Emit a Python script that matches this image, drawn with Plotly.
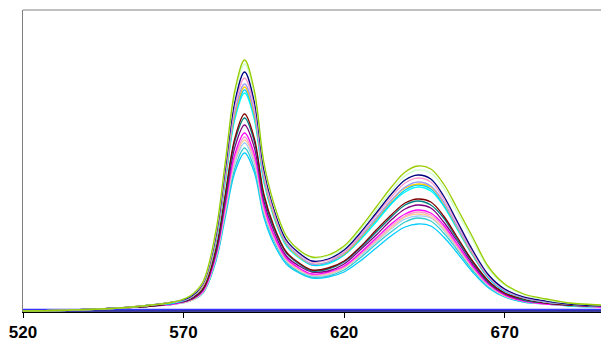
import plotly.graph_objects as go

# Wavelength (nm)
wavelength = [520, 535, 550, 560, 567, 572, 576, 580, 583, 586, 589, 592, 595, 598, 602, 606, 610,
              615, 620, 625, 630, 635, 639, 643, 647, 651, 655, 660, 665, 670, 676, 683, 690, 700]

s01 = [1, 2, 4, 7, 10, 16, 30, 80, 150, 222, 252, 222, 150, 110, 76, 62, 55, 57, 66, 84, 105, 126, 140, 146, 143, 128, 105, 75, 45, 28, 18, 13, 9, 7]
s02 = [1, 2, 4, 7, 10, 16, 29, 78, 148, 218, 248, 218, 148, 108, 75, 61, 54, 56, 64, 82, 102, 122, 136, 142, 139, 124, 101, 72, 43, 27, 17, 12, 9, 7]
s03 = [1, 2, 4, 7, 10, 15, 28, 75, 143, 211, 240, 211, 143, 105, 72, 59, 51, 53, 62, 79, 99, 119, 132, 137, 133, 116, 92, 62, 37, 23, 15, 11, 8, 6]
s04 = [1, 2, 4, 7, 10, 15, 27, 73, 139, 206, 234, 206, 139, 102, 71, 58, 50, 52, 60, 77, 97, 116, 129, 134, 130, 113, 90, 60, 36, 22, 15, 11, 8, 6]
s05 = [1, 2, 4, 7, 10, 14, 27, 71, 136, 201, 228, 201, 136, 100, 69, 56, 48, 50, 59, 75, 94, 113, 125, 130, 126, 110, 87, 59, 35, 22, 14, 10, 8, 6]
s06 = [1, 2, 4, 7, 10, 14, 26, 70, 134, 198, 225, 198, 134, 98, 68, 55, 48, 50, 58, 74, 93, 112, 124, 128, 125, 109, 86, 58, 35, 22, 14, 10, 8, 6]
s07 = [1, 2, 4, 7, 9, 14, 26, 69, 132, 196, 222, 196, 132, 97, 67, 55, 47, 49, 57, 73, 92, 110, 122, 127, 123, 107, 85, 57, 34, 21, 14, 10, 8, 6]
s08 = [1, 2, 4, 7, 9, 14, 26, 68, 130, 193, 219, 193, 130, 96, 66, 54, 47, 48, 57, 72, 90, 109, 120, 125, 121, 106, 84, 57, 34, 21, 14, 10, 8, 6]
s09 = [1, 2, 4, 6, 9, 13, 23, 62, 118, 174, 198, 174, 118, 87, 60, 49, 42, 44, 51, 65, 82, 98, 109, 113, 110, 96, 76, 51, 31, 19, 13, 9, 7, 6]
s10 = [1, 2, 4, 6, 9, 13, 23, 61, 115, 171, 194, 171, 115, 85, 59, 48, 41, 43, 50, 64, 80, 96, 107, 111, 107, 94, 74, 50, 30, 19, 12, 9, 7, 6]
s11 = [1, 2, 4, 6, 9, 12, 22, 58, 111, 165, 187, 165, 111, 82, 56, 46, 40, 41, 48, 62, 77, 93, 103, 107, 104, 90, 72, 48, 29, 18, 12, 9, 7, 6]
s12 = [1, 2, 4, 6, 8, 12, 21, 56, 107, 158, 179, 158, 107, 78, 54, 44, 38, 40, 46, 59, 74, 89, 98, 102, 99, 87, 69, 46, 28, 17, 11, 8, 7, 5]
s13 = [1, 2, 4, 6, 8, 12, 20, 55, 104, 154, 175, 154, 104, 76, 53, 43, 37, 39, 45, 58, 72, 87, 96, 100, 97, 85, 67, 45, 27, 17, 11, 8, 7, 5]
s14 = [1, 2, 4, 6, 8, 11, 20, 54, 102, 152, 172, 152, 102, 75, 52, 42, 37, 38, 44, 57, 71, 85, 95, 98, 95, 83, 66, 44, 27, 16, 11, 8, 7, 5]
s15 = [1, 2, 4, 6, 8, 11, 20, 53, 101, 149, 169, 149, 101, 74, 51, 42, 36, 37, 44, 56, 70, 84, 93, 96, 94, 82, 65, 44, 26, 16, 11, 8, 7, 5]
s16 = [1, 2, 4, 6, 8, 11, 19, 51, 98, 144, 164, 144, 98, 72, 50, 40, 35, 36, 42, 54, 68, 81, 90, 94, 91, 79, 63, 42, 25, 16, 10, 8, 6, 5]
s17 = [1, 2, 4, 6, 8, 11, 19, 50, 95, 140, 159, 140, 95, 69, 48, 39, 34, 35, 40, 51, 64, 77, 85, 88, 86, 75, 60, 40, 24, 15, 10, 8, 6, 5]

# Flat baseline (blank) series
flat_x = [520, 700]
b01 = [2.5, 2.5]
b02 = [1.0, 1.0]

tick_vals = [520, 570, 620, 670]
tick_text = ["520", "570", "620", "670"]

series = [s17, s16, s15, s14, s13, s12, s11, s10, s09, s08, s07, s06, s05, s04, s03, s02, s01]
colors = ["#00CCFF", "#33CCCC", "#99CCFF", "#FFCC99", "#FF99CC", "#FF00FF", "#800080", "#008080",
          "#800000", "#00FFFF", "#00CCFF", "#FFCC00", "#9999FF", "#FF99CC", "#000080", "#CCFFCC", "#99CC00"]

fig = go.Figure()
for b, c in zip([b01, b02], ["#3333FF", "#000080"]):
    fig.add_trace(go.Scatter(x=flat_x, y=b, mode="lines", line=dict(color=c, width=1.3),
                             hoverinfo="skip", showlegend=False))
for s, c in zip(series, colors):
    fig.add_trace(go.Scatter(x=wavelength, y=s, mode="lines",
                             line=dict(color=c, width=1.3, shape="spline", smoothing=1.0),
                             showlegend=False))

fig.update_layout(
    width=601, height=345,
    margin=dict(l=23, r=0, t=10, b=33),
    paper_bgcolor="white", plot_bgcolor="white",
    font=dict(family="Liberation Sans, Arial, sans-serif", color="black"),
    xaxis=dict(range=[520, 700], tickmode="array", tickvals=tick_vals, ticktext=tick_text,
               ticks="outside", ticklen=5, tickcolor="black", tickwidth=1, automargin=False,
               showline=True, linecolor="black", linewidth=1, showgrid=False, zeroline=False,
               tickfont=dict(size=17, weight="bold", color="black")),
    yaxis=dict(range=[0, 302], showticklabels=False, ticks="", showgrid=False, zeroline=False,
               automargin=False, showline=True, linecolor="#808080", linewidth=1),
    shapes=[dict(type="line", xref="paper", yref="paper", x0=0, x1=1, y0=1, y1=1,
                 line=dict(color="#808080", width=1))],
)

fig.write_html("out.html", config={"displayModeBar": False},
               post_script="document.body.style.margin='0px';document.body.style.overflow='hidden';")
